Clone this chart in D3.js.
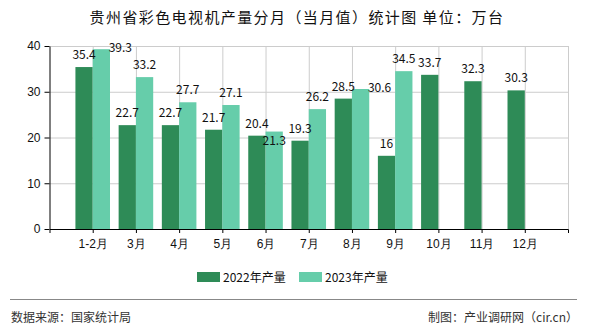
<!DOCTYPE html>
<html><head><meta charset="utf-8">
<script src="https://cdn.jsdelivr.net/npm/d3@7"></script>
<style>
html,body{margin:0;padding:0;background:#fff;}
svg{display:block;font-family:"Noto Sans CJK SC","Noto Sans",sans-serif;}
</style></head>
<body><svg id="c" width="590" height="330"></svg>
<script>
const categories = ["1-2月","3月","4月","5月","6月","7月","8月","9月","10月","11月","12月"];
const values2022 = [35.4,22.7,22.7,21.7,20.4,19.3,28.5,16,33.7,32.3,30.3];
const values2023 = [39.3,33.2,27.7,27.1,21.3,26.2,30.6,34.5,null,null,null];
const seriesNames = ["2022年产量","2023年产量"];
const yTicks = [0,10,20,30,40];
const titleText = "贵州省彩色电视机产量分月（当月值）统计图 单位：万台";
const sourceText = "数据来源：国家统计局";
const creditText = "制图：产业调研网（cir.cn）";

const colors = ["#2E8B57","#66CDAA"];
const svg = d3.select("#c");
const L = 49.5, R = 568, T = 46, B = 229;

const x = d3.scalePoint().domain(categories).range([L, R]).padding(1);
const y = d3.scaleLinear().domain([0, 40]).range([B, T]);
const bw = x.step() * 0.4;

// title
svg.append("text").attr("x", 297).attr("y", 23).attr("text-anchor","middle")
  .attr("font-size", 15).attr("letter-spacing", 1.4).attr("fill","#111").text(titleText);

// grid
const g = svg.append("g");
g.selectAll("line.h").data(yTicks.filter(d=>d>0)).join("line")
  .attr("x1", L).attr("x2", R).attr("y1", d=>y(d)+0.5).attr("y2", d=>y(d)+0.5)
  .attr("stroke","#ccc");
g.selectAll("line.v").data(categories).join("line")
  .attr("x1", d=>x(d)+0.5).attr("x2", d=>x(d)+0.5).attr("y1", T).attr("y2", B)
  .attr("stroke","#ccc");
g.append("line").attr("x1", R+0.5).attr("x2", R+0.5).attr("y1", T).attr("y2", B).attr("stroke","#ccc");

// bars
const series = [values2022, values2023];
series.forEach((vals, s) => {
  svg.append("g").selectAll("rect").data(categories.map((c,i)=>({c, v: vals[i]})).filter(d=>d.v!=null))
    .join("rect")
    .attr("x", d => s===0 ? x(d.c) - bw : x(d.c))
    .attr("width", bw)
    .attr("y", d => y(d.v))
    .attr("height", d => y(0) - y(d.v))
    .attr("fill", colors[s]);
});

// value labels (with nudges for overlapping ones)
const nudges = {"1-0":{dx:19,dy:3},"1-4":{dx:0,dy:13},"1-6":{dx:19,dy:3}};
series.forEach((vals, s) => {
  const lg = svg.append("g").attr("font-size", 12).attr("fill","#111").attr("text-anchor","middle");
  vals.forEach((v, i) => {
    if (v == null) return;
    const n = nudges[s+"-"+i];
    const cx = (s===0 ? x(categories[i]) - bw/2 : x(categories[i]) + bw/2) + (n ? n.dx : 0);
    const by = n ? y(v) + n.dy : y(v) - 8;
    lg.append("text").attr("x", cx).attr("y", by).text(String(v));
  });
});

// axes
const ya = svg.append("g").attr("transform", `translate(${L},0)`)
  .call(d3.axisLeft(y).tickValues(yTicks).tickSize(5).tickSizeOuter(0).tickPadding(4));
ya.selectAll("text").attr("font-size", 12).attr("fill","#111").attr("font-family","inherit");
ya.selectAll("line,path").attr("stroke","#000");

const xa = svg.append("g").attr("transform", `translate(0,${B})`)
  .call(d3.axisBottom(x).tickSize(4).tickSizeOuter(4).tickPadding(4));
xa.selectAll("text").attr("font-size", 12).attr("fill","#111").attr("font-family","inherit").attr("dy","0.9em");
xa.selectAll("line,path").attr("stroke","#000");

// legend
const leg = svg.append("g");
const legX = [197, 299];
seriesNames.forEach((nm, s) => {
  leg.append("rect").attr("x", legX[s]).attr("y", 272).attr("width", 23).attr("height", 10).attr("fill", colors[s]);
  leg.append("text").attr("x", legX[s] + 26).attr("y", 282).attr("font-size", 12).attr("fill","#111").text(nm);
});

// footer
svg.append("line").attr("x1", 10).attr("x2", 577).attr("y1", 299.5).attr("y2", 299.5).attr("stroke","#888").attr("stroke-width",1);
svg.append("text").attr("x", 11).attr("y", 322).attr("font-size", 12).attr("fill","#333").text(sourceText);
svg.append("text").attr("x", 578).attr("y", 322).attr("text-anchor","end").attr("font-size", 12).attr("fill","#333").text(creditText);
</script></body></html>
